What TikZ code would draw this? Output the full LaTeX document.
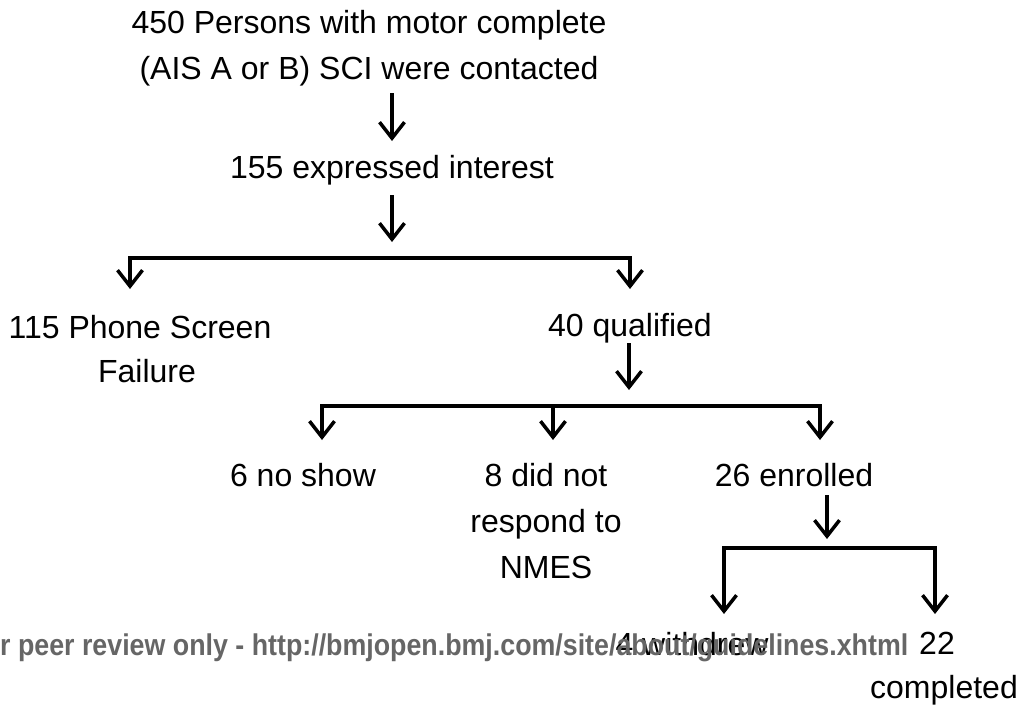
\documentclass[tikz,border=0pt]{standalone}
\usepackage{fontspec}
\setmainfont{Liberation Sans}
\usetikzlibrary{arrows.meta}
\begin{document}
\begin{tikzpicture}[x=1pt,y=-1pt,
  lbl/.style={inner sep=0pt,align=center,font=\fontsize{32}{46}\selectfont},
  one/.style={lbl,anchor=base},
  arr/.style={line width=3.5pt,-{Straight Barb[length=16pt,width=25pt,line width=3.5pt]}},
  barline/.style={line width=3.5pt,line cap=rect},
  wmark/.style={inner sep=0pt,anchor=base west,text=black!60,font=\fontsize{30}{30}\selectfont\bfseries}]
\useasboundingbox[fill=white] (0,0) rectangle (1019,705);
% texts
\node[lbl] (n1) at (369,48) {450 Persons with motor complete\\(AIS A or B) SCI were contacted};
\node[one] (n2) at (392,178) {155 expressed interest};
\node[lbl,font=\fontsize{32}{44}\selectfont] (n3) at (147,349) {115 Phone Screen\hspace*{14pt}\\Failure};
\node[one] (n4) at (630,336) {40 qualified};
\node[one] (n5) at (303,486) {6 no show};
\node[lbl] (n6) at (546,521.5) {8 did not\\respond to\\NMES};
\node[one] (n7) at (794,486) {26 enrolled};
\node[one] (n8) at (692,655) {4 withdrew};
\node[lbl,font=\fontsize{32}{44}\selectfont] (n9) at (944,669) {22\hspace*{14pt}\\completed};
% arrow coordinates
\coordinate (a1t) at (392,93);  \coordinate (a1b) at (392,141);
\coordinate (a2t) at (392,195); \coordinate (a2b) at (392,242);
\coordinate (b1l) at (130,258); \coordinate (b1r) at (630,258);
\coordinate (t1l) at (130,289); \coordinate (t1r) at (630,289);
\coordinate (a3t) at (629,343); \coordinate (a3b) at (629,390);
\coordinate (b2l) at (322,406); \coordinate (b2m) at (553,406); \coordinate (b2r) at (820,406);
\coordinate (t2l) at (322,440); \coordinate (t2m) at (553,440); \coordinate (t2r) at (820,440);
\coordinate (a4t) at (827,495); \coordinate (a4b) at (827,539);
\coordinate (b3l) at (724,548); \coordinate (b3r) at (935,548);
\coordinate (t3l) at (724,614); \coordinate (t3r) at (935,614);
% connectors
\draw[arr] (a1t) -- (a1b);
\draw[arr] (a2t) -- (a2b);
\draw[barline] (b1l) -- (b1r);
\draw[arr] (b1l) -- (t1l);
\draw[arr] (b1r) -- (t1r);
\draw[arr] (a3t) -- (a3b);
\draw[barline] (b2l) -- (b2r);
\draw[arr] (b2l) -- (t2l);
\draw[arr] (b2m) -- (t2m);
\draw[arr] (b2r) -- (t2r);
\draw[arr] (a4t) -- (a4b);
\draw[barline] (b3l) -- (b3r);
\draw[arr] (b3l) -- (t3l);
\draw[arr] (b3r) -- (t3r);
% watermark
\node[wmark] (wm) at (0,655) {\scalebox{0.893}[1]{r peer review only - http://bmjopen.bmj.com/site/about/guidelines.xhtml}};
\end{tikzpicture}
\end{document}
